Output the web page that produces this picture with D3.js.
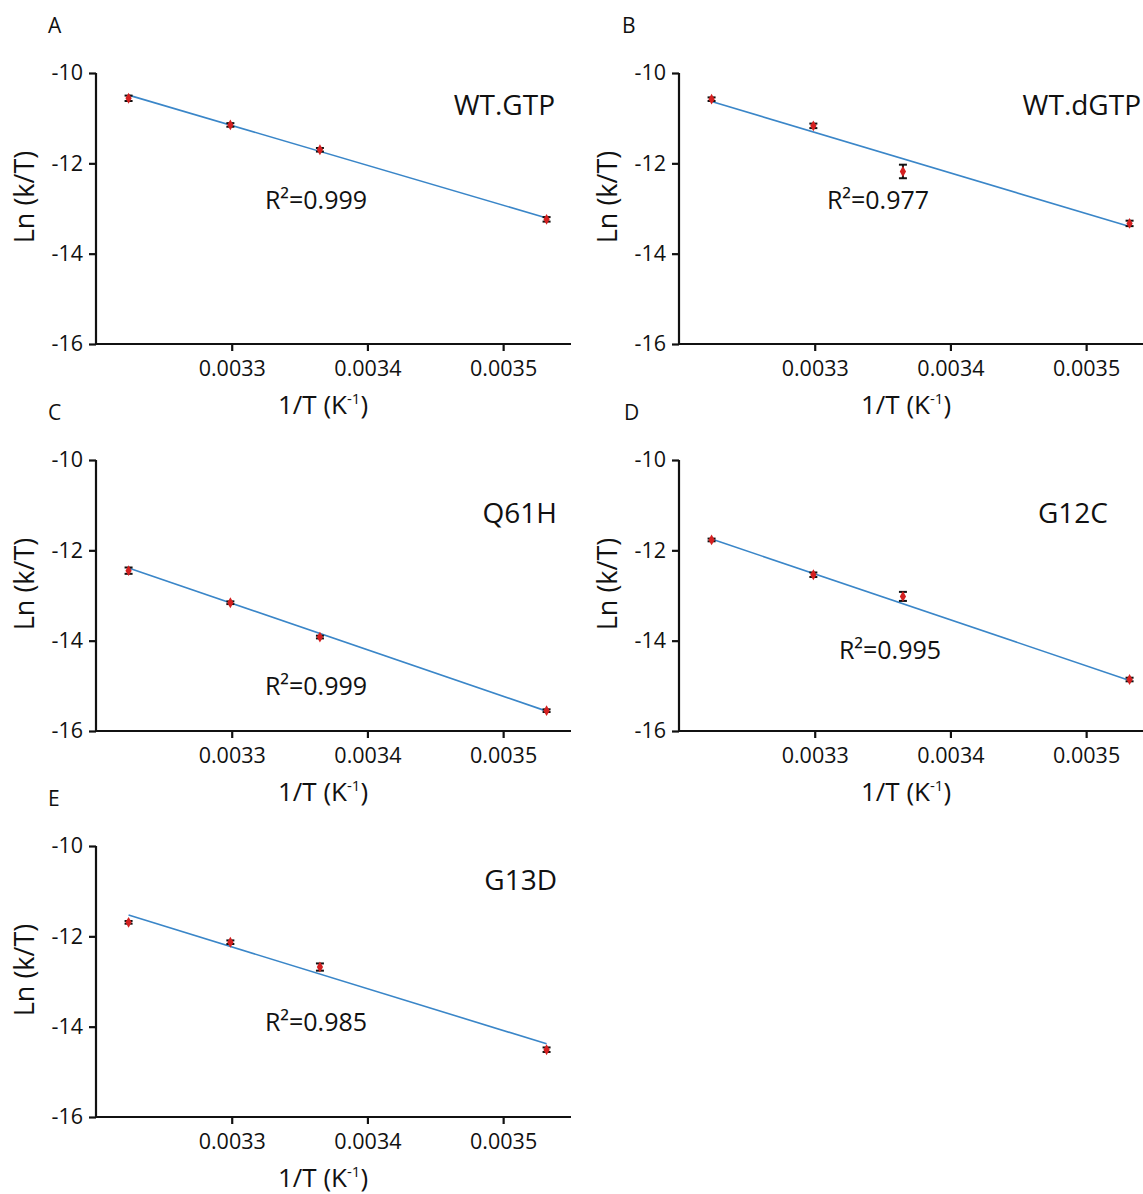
<!DOCTYPE html>
<html>
<head>
<meta charset="utf-8">
<script src="https://cdn.jsdelivr.net/npm/d3@7"></script>
<style>
  html, body { margin: 0; padding: 0; background: #fff; }
  svg { display: block; }
  text { font-family: "Open Sans", "Noto Sans", sans-serif; fill: #111; }
</style>
</head>
<body>
<svg id="chart" width="1143" height="1194"></svg>
<script>
// ---------- data ----------
const panelLetters = ["A", "B", "C", "D", "E"];
const mutantNames = ["WT.GTP", "WT.dGTP", "Q61H", "G12C", "G13D"];
const r2Labels = ["0.999", "0.977", "0.999", "0.995", "0.985"];

const invT = [0.003224, 0.003299, 0.003365, 0.003532];   // 1/T (K^-1)

const lnKT_WTGTP  = [-10.56, -11.15, -11.70, -13.24];
const lnKT_WTdGTP = [-10.58, -11.17, -12.18, -13.33];
const lnKT_Q61H   = [-12.45, -13.16, -13.92, -15.55];
const lnKT_G12C   = [-11.77, -12.54, -13.02, -14.86];
const lnKT_G13D   = [-11.69, -12.13, -12.68, -14.51];

const err_WTGTP  = [0.06, 0.04, 0.04, 0.05];
const err_WTdGTP = [0.04, 0.05, 0.15, 0.06];
const err_Q61H   = [0.07, 0.03, 0.03, 0.03];
const err_G12C   = [0.03, 0.05, 0.10, 0.04];
const err_G13D   = [0.03, 0.04, 0.08, 0.05];

// fitted line values at first and last 1/T
const fit_WTGTP  = [-10.49, -13.21];
const fit_WTdGTP = [-10.63, -13.40];
const fit_Q61H   = [-12.39, -15.56];
const fit_G12C   = [-11.75, -14.88];
const fit_G13D   = [-11.53, -14.38];

const yTicks = [-10, -12, -14, -16];
const xTicks = [0.0033, 0.0034, 0.0035];
const xDomain = [0.0032, 0.00355];
const yDomain = [-16, -10];

const seriesY = [lnKT_WTGTP, lnKT_WTdGTP, lnKT_Q61H, lnKT_G12C, lnKT_G13D];
const seriesErr = [err_WTGTP, err_WTdGTP, err_Q61H, err_G12C, err_G13D];
const seriesFit = [fit_WTGTP, fit_WTdGTP, fit_Q61H, fit_G12C, fit_G13D];

// ---------- layout ----------
const colLeft = [96, 679];
const rowTop = [73, 460, 846];
const plotW = 475, plotH = 271;
// label placements (pixel offsets inside each panel)
const letterX = [-48, -57, -48, -55, -48];
const nameRight = [459, 462, 461, 429, 461];
const nameY = [42, 42, 63, 63, 44];
const r2X = [220, 199, 220, 211, 220];
const r2Y = [136, 136, 235, 199, 185];

const svg = d3.select("#chart");
const x = d3.scaleLinear().domain(xDomain).range([0, plotW]);
const y = d3.scaleLinear().domain(yDomain).range([plotH, 0]);

seriesY.forEach((vals, i) => {
  const left = colLeft[i % 2], top = rowTop[Math.floor(i / 2)];
  const g = svg.append("g").attr("transform", `translate(${left},${top})`);

  // panel letter
  g.append("text").attr("x", letterX[i]).attr("y", -40)
    .attr("font-size", 21).text(panelLetters[i]);

  // axes
  const yAxis = d3.axisLeft(y).tickValues(yTicks).tickSize(7).tickPadding(6)
    .tickFormat(d => d3.format("d")(d).replace("−", "-"));
  const xAxis = d3.axisBottom(x).tickValues(xTicks).tickSize(7).tickPadding(10)
    .tickFormat(d3.format(".4f"));

  const ya = g.append("g").call(yAxis);
  const xa = g.append("g").attr("transform", `translate(0,${plotH})`).call(xAxis);
  [ya, xa].forEach(a => {
    a.select(".domain").attr("stroke", "#111").attr("stroke-width", 2.2);
    a.selectAll(".tick line").attr("stroke", "#111").attr("stroke-width", 2.2);
    a.selectAll(".tick text").attr("font-size", 21.5).attr("fill", "#111")
      .style("font-family", '"Open Sans", "Noto Sans", sans-serif');
  });
  ya.select(".domain").attr("d", `M0,${plotH}V0`);
  xa.select(".domain").attr("d", `M0,0H${plotW}`);

  // axis titles
  g.append("text")
    .attr("transform", `translate(-62,${124}) rotate(-90)`)
    .attr("text-anchor", "middle").attr("font-size", 27).text("Ln (k/T)");
  const xt = g.append("text").attr("x", 227).attr("y", plotH + 70)
    .attr("text-anchor", "middle").attr("font-size", 26);
  xt.append("tspan").text("1/T (K");
  xt.append("tspan").attr("font-size", 15).attr("dy", -10).text("-1");
  xt.append("tspan").attr("dy", 10).text(")");

  // fit line
  const fit = seriesFit[i];
  g.append("line")
    .attr("x1", x(invT[0])).attr("y1", y(fit[0]))
    .attr("x2", x(invT[invT.length - 1])).attr("y2", y(fit[1]))
    .attr("stroke", "#3a86c8").attr("stroke-width", 1.6);

  // error bars + points
  const errs = seriesErr[i];
  vals.forEach((v, j) => {
    const cx = x(invT[j]);
    const y1 = y(v + errs[j]), y2 = y(v - errs[j]);
    g.append("line").attr("x1", cx).attr("x2", cx).attr("y1", y1).attr("y2", y2)
      .attr("stroke", "#111").attr("stroke-width", 2);
    [y1, y2].forEach(yy => g.append("line")
      .attr("x1", cx - 4).attr("x2", cx + 4).attr("y1", yy).attr("y2", yy)
      .attr("stroke", "#111").attr("stroke-width", 2));
    g.append("path")
      .attr("d", d3.symbol(d3.symbolDiamond, 34)())
      .attr("transform", `translate(${cx},${y(v)})`)
      .attr("fill", "#d42020");
  });

  // labels
  g.append("text").attr("x", nameRight[i]).attr("y", nameY[i])
    .attr("text-anchor", "end").attr("font-size", 28).text(mutantNames[i]);
  g.append("text").attr("x", r2X[i]).attr("y", r2Y[i])
    .attr("text-anchor", "middle").attr("font-size", 25)
    .text("R²=" + r2Labels[i]);
});
</script>
</body>
</html>
